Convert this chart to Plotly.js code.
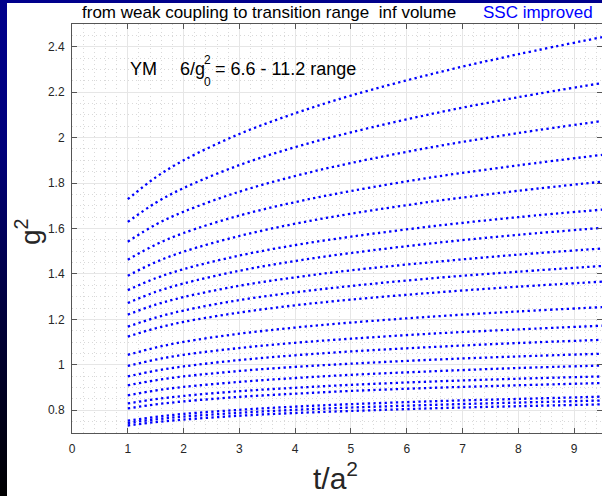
<!DOCTYPE html>
<html>
<head>
<meta charset="utf-8">
<script src="https://cdn.plot.ly/plotly-3.0.1.min.js"></script>
<style>
  html, body { margin: 0; padding: 0; width: 602px; height: 496px; overflow: hidden;
    background: linear-gradient(180deg, #00008c 0%, #00007a 30%, #000038 65%, #000000 100%); }
  #chart { position: absolute; left: 7px; top: 3px; width: 595px; height: 493px; }
</style>
</head>
<body>
<div id="chart"></div>
<script>
// flow time t/a^2 at which values were read
const tValues = [1, 1.5, 2, 3, 4, 5, 6.5, 8, 9.5];

// g^2 curves, one per bare coupling (top = strongest)
const s01 = [1.729, 1.825, 1.900, 2.016, 2.107, 2.185, 2.283, 2.367, 2.442];
const s02 = [1.629, 1.713, 1.778, 1.879, 1.958, 2.023, 2.107, 2.178, 2.240];
const s03 = [1.542, 1.617, 1.674, 1.762, 1.831, 1.888, 1.960, 2.020, 2.073];
const s04 = [1.463, 1.529, 1.580, 1.657, 1.716, 1.765, 1.827, 1.878, 1.924];
const s05 = [1.392, 1.452, 1.498, 1.567, 1.621, 1.665, 1.720, 1.766, 1.806];
const s06 = [1.329, 1.381, 1.421, 1.481, 1.527, 1.564, 1.611, 1.650, 1.683];
const s07 = [1.272, 1.321, 1.358, 1.414, 1.457, 1.492, 1.536, 1.572, 1.603];
const s08 = [1.221, 1.265, 1.298, 1.348, 1.385, 1.416, 1.453, 1.485, 1.512];
const s09 = [1.168, 1.208, 1.239, 1.285, 1.319, 1.347, 1.382, 1.410, 1.435];
const s10 = [1.124, 1.161, 1.189, 1.230, 1.262, 1.287, 1.318, 1.344, 1.366];
const s11 = [1.044, 1.076, 1.101, 1.137, 1.164, 1.186, 1.213, 1.235, 1.254];
const s12 = [0.995, 1.023, 1.044, 1.074, 1.097, 1.115, 1.138, 1.156, 1.172];
const s13 = [0.949, 0.974, 0.993, 1.021, 1.042, 1.059, 1.079, 1.096, 1.110];
const s14 = [0.910, 0.932, 0.949, 0.973, 0.991, 1.005, 1.023, 1.037, 1.049];
const s15 = [0.866, 0.887, 0.903, 0.925, 0.942, 0.956, 0.972, 0.986, 0.997];
const s16 = [0.830, 0.849, 0.863, 0.884, 0.899, 0.912, 0.927, 0.939, 0.949];
const s17 = [0.808, 0.826, 0.839, 0.859, 0.873, 0.885, 0.899, 0.910, 0.920];
const s18 = [0.754, 0.771, 0.784, 0.802, 0.816, 0.827, 0.840, 0.850, 0.860];
const s19 = [0.744, 0.760, 0.772, 0.789, 0.802, 0.812, 0.824, 0.834, 0.843];
const s20 = [0.733, 0.748, 0.759, 0.776, 0.788, 0.797, 0.809, 0.818, 0.826];
const allSeries = [s01, s02, s03, s04, s05, s06, s07, s08, s09, s10,
                   s11, s12, s13, s14, s15, s16, s17, s18, s19, s20];

// axis ticks
const xTickVals = [0, 1, 2, 3, 4, 5, 6, 7, 8, 9];
const xTickText = ["0", "1", "2", "3", "4", "5", "6", "7", "8", "9"];
const yTickVals = [0.8, 1.0, 1.2, 1.4, 1.6, 1.8, 2.0, 2.2, 2.4];
const yTickText = ["0.8", "1", "1.2", "1.4", "1.6", "1.8", "2", "2.2", "2.4"];

const FONT = "Liberation Sans, Arial, Helvetica, sans-serif";

const traces = allSeries.map((ys, i) => ({
  x: tValues, y: ys, type: "scatter", mode: "lines",
  line: { color: "#0000ff", width: 2.3, dash: "2.3px,3.3px", shape: "spline" },
  hoverinfo: "skip", showlegend: false, name: "s" + (i + 1)
}));

const layout = {
  width: 595, height: 493,
  margin: { l: 65, r: 0, t: 21, b: 63 },
  paper_bgcolor: "#ffffff", plot_bgcolor: "#ffffff",
  font: { family: FONT, color: "#262626" },
  showlegend: false,
  xaxis: {
    range: [0, 9.5], tickvals: xTickVals, ticktext: xTickText,
    ticks: "inside", ticklen: 5, tickcolor: "#555", tickwidth: 1,
    showline: true, linecolor: "#555", linewidth: 1, mirror: "ticks",
    showgrid: true, gridcolor: "#e6e6e6", gridwidth: 1, zeroline: false,
    minor: { dtick: 0.2, showgrid: true, gridcolor: "#d9d9d9", griddash: "1px,3px", gridwidth: 1 },
    tickfont: { size: 12, color: "#262626", family: FONT },
    ticklabelstandoff: 5,
    automargin: false, fixedrange: true
  },
  yaxis: {
    range: [0.7, 2.5], tickvals: yTickVals, ticktext: yTickText,
    ticks: "inside", ticklen: 5, tickcolor: "#555", tickwidth: 1,
    showline: true, linecolor: "#555", linewidth: 1, mirror: "ticks",
    showgrid: true, gridcolor: "#e6e6e6", gridwidth: 1, zeroline: false,
    minor: { dtick: 0.05, showgrid: true, gridcolor: "#d9d9d9", griddash: "1px,3px", gridwidth: 1 },
    tickfont: { size: 12, color: "#262626", family: FONT },
    ticklabelstandoff: 4,
    automargin: false, fixedrange: true
  },
  annotations: [
    // axis titles
    { text: "t/a<sup>2</sup>", xref: "paper", yref: "paper", x: (335 - 72) / 530, y: (433 - 476) / 409,
      xanchor: "center", yanchor: "middle", showarrow: false, borderpad: 0,
      font: { size: 30, color: "#262626", family: FONT } },
    { text: "g<sup>2</sup>", xref: "paper", yref: "paper", x: (28 - 72) / 530, y: (433 - 232) / 409,
      xanchor: "center", yanchor: "middle", textangle: -90, showarrow: false,
      font: { size: 28, color: "#262626", family: FONT } },
    // header texts
    { text: "from weak coupling to transition range&nbsp;&nbsp;inf volume", xref: "paper", yref: "paper",
      x: (80 - 72) / 530, y: 1.0, xanchor: "left", yanchor: "bottom", showarrow: false,
      font: { size: 17, color: "#000000", family: FONT } },
    { text: "SSC improved", xref: "paper", yref: "paper",
      x: (481 - 72) / 530, y: 1.0, xanchor: "left", yanchor: "bottom", showarrow: false,
      font: { size: 17, color: "#0000ff", family: FONT } },
    // in-plot label
    { text: "YM", xref: "x", yref: "y", x: 1.0, y: 2.30, xanchor: "left", yanchor: "middle", showarrow: false,
      font: { size: 18, color: "#000000", family: FONT } },
    { text: "6/g", xref: "x", yref: "y", x: 1.905, y: 2.30, xanchor: "left", yanchor: "middle", showarrow: false,
      font: { size: 18, color: "#000000", family: FONT } },
    { text: "2", xref: "x", yref: "y", x: 2.33, y: 2.34, xanchor: "left", yanchor: "middle", showarrow: false,
      font: { size: 12, color: "#000000", family: FONT } },
    { text: "0", xref: "x", yref: "y", x: 2.33, y: 2.245, xanchor: "left", yanchor: "middle", showarrow: false,
      font: { size: 12, color: "#000000", family: FONT } },
    { text: "= 6.6 - 11.2 range", xref: "x", yref: "y", x: 2.52, y: 2.30, xanchor: "left", yanchor: "middle", showarrow: false,
      font: { size: 18, color: "#000000", family: FONT } }
  ]
};

Plotly.newPlot("chart", traces, layout, { staticPlot: true, displayModeBar: false });
</script>
</body>
</html>
